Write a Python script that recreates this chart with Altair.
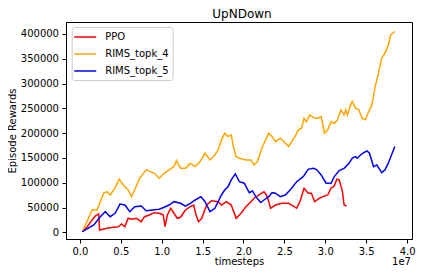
import altair as alt
import pandas as pd

series_names = ["PPO", "RIMS_topk_4", "RIMS_topk_5"]
series_colors = ["#ff0000", "#ffa500", "#0000ff"]

# timesteps in units of 1e7
ppo_t = [0.03, 0.09, 0.15, 0.19, 0.23, 0.24, 0.33, 0.41, 0.47, 0.51, 0.55, 0.59, 0.63, 0.69, 0.75, 0.79,
         0.85, 0.91, 0.97, 1.02, 1.04, 1.07, 1.11, 1.15, 1.19, 1.23, 1.29, 1.35, 1.39, 1.42, 1.45, 1.49,
         1.55, 1.61, 1.69, 1.73, 1.79, 1.85, 1.91, 1.97, 2.03, 2.09, 2.13, 2.19, 2.25, 2.28, 2.31, 2.33,
         2.39, 2.47, 2.55, 2.61, 2.65, 2.69, 2.74, 2.79, 2.83, 2.87, 2.93, 2.97, 3.03, 3.07, 3.11, 3.14,
         3.17, 3.21, 3.23, 3.26]
ppo_r = [1200, 11300, 25000, 33000, 37000, 4600, 8000, 10000, 11300, 16800, 11300, 28300, 26300, 28300,
         21400, 31500, 35000, 39600, 38400, 35000, 11300, 35000, 48500, 38400, 28300, 30300, 45000, 51700,
         55000, 35000, 21400, 28300, 55000, 63800, 61800, 55000, 61800, 55000, 28300, 38400, 51700, 61800,
         68700, 75300, 82000, 75300, 61800, 48500, 55000, 58600, 58600, 53000, 48500, 61800, 88900, 78800,
         78800, 61800, 68700, 72000, 75300, 88900, 93500, 107000, 105600, 82000, 55000, 53000]

k4_t = [0.03, 0.15, 0.21, 0.29, 0.33, 0.37, 0.43, 0.48, 0.53, 0.59, 0.63, 0.67, 0.73, 0.81, 0.87, 0.91,
        0.97, 1.03, 1.09, 1.15, 1.18, 1.23, 1.29, 1.35, 1.41, 1.47, 1.53, 1.59, 1.65, 1.69, 1.73, 1.77,
        1.81, 1.85, 1.88, 1.91, 1.95, 2.03, 2.09, 2.13, 2.17, 2.23, 2.31, 2.35, 2.39, 2.45, 2.51, 2.55,
        2.63, 2.67, 2.71, 2.74, 2.77, 2.81, 2.87, 2.91, 2.95, 2.99, 3.03, 3.07, 3.11, 3.15, 3.19, 3.23,
        3.25, 3.27, 3.31, 3.33, 3.37, 3.41, 3.45, 3.49, 3.53, 3.57, 3.61, 3.65, 3.69, 3.73, 3.77, 3.80,
        3.83, 3.85]
k4_r = [1200, 45000, 45000, 78800, 82000, 75300, 89500, 107000, 95500, 85400, 72000, 85400, 109000,
        126000, 122000, 119000, 109000, 119000, 126000, 132500, 144600, 129000, 129000, 139000, 132500,
        142600, 159600, 146000, 156000, 166000, 186000, 200000, 193000, 196500, 170000, 152700, 149500,
        146000, 146000, 136000, 142600, 172000, 200000, 193000, 183000, 190000, 180000, 173000, 193000,
        206600, 210000, 230000, 223000, 237000, 230000, 230000, 233500, 200000, 206600, 223000, 220000,
        226800, 247000, 237000, 247000, 237000, 257000, 264000, 250500, 247000, 230000, 227000, 243600,
        257000, 294000, 321000, 351500, 361600, 378000, 398500, 402000, 405000]

k5_t = [0.03, 0.17, 0.25, 0.31, 0.37, 0.43, 0.49, 0.55, 0.61, 0.67, 0.75, 0.81, 0.89, 0.97, 1.03, 1.09,
        1.15, 1.23, 1.29, 1.35, 1.41, 1.48, 1.53, 1.59, 1.65, 1.73, 1.77, 1.81, 1.85, 1.90, 1.95, 2.01,
        2.07, 2.11, 2.15, 2.21, 2.25, 2.31, 2.35, 2.39, 2.45, 2.51, 2.57, 2.65, 2.73, 2.79, 2.85, 2.89,
        2.95, 3.01, 3.07, 3.11, 3.17, 3.23, 3.29, 3.33, 3.37, 3.39, 3.43, 3.47, 3.51, 3.54, 3.59, 3.63,
        3.69, 3.73, 3.77, 3.85]
k5_r = [1200, 14700, 31500, 41600, 31500, 38400, 57000, 55000, 41600, 51700, 53000, 43600, 45000, 46500,
        50500, 55000, 61800, 58500, 53000, 58500, 65200, 72000, 61800, 41600, 48500, 75300, 85400, 92000,
        105600, 117800, 102000, 99000, 80000, 83400, 72000, 60000, 65200, 72000, 80000, 78800, 72000,
        75300, 85400, 102000, 112300, 127000, 129000, 127000, 115700, 99000, 99000, 112300, 124400,
        129000, 139400, 149500, 152700, 149500, 156000, 160800, 164000, 159600, 132500, 136000, 120400,
        126000, 139400, 173000]

x_ticks = [0.0, 0.5, 1.0, 1.5, 2.0, 2.5, 3.0, 3.5, 4.0]
y_ticks = [0, 50000, 100000, 150000, 200000, 250000, 300000, 350000, 400000]
title_text = "UpNDown"
offset_label = "1e7"

rows = []
for name, ts, rs in [("PPO", ppo_t, ppo_r), ("RIMS_topk_4", k4_t, k4_r), ("RIMS_topk_5", k5_t, k5_r)]:
    for t, r in zip(ts, rs):
        rows.append({"series": name, "t": t, "r": r})
df = pd.DataFrame(rows)

FONT = "DejaVu Sans"
PLOT_W = 346
PLOT_H = 217

lines = alt.Chart(df).mark_line(strokeWidth=1.5).encode(
    x=alt.X("t:Q",
            scale=alt.Scale(domain=[-0.17, 4.06], nice=False, zero=False),
            axis=alt.Axis(tickCount=len(x_ticks), tickMinStep=x_ticks[1] - x_ticks[0],
                          format=".1f", title="timesteps", grid=False,
                          tickSize=4, labelPadding=3, titlePadding=0,
                          labelOverlap=False, labelFlush=False)),
    y=alt.Y("r:Q",
            scale=alt.Scale(domain=[-13500, 424200], nice=False, zero=False),
            axis=alt.Axis(values=y_ticks, format="d", title="Episode Rewards", grid=False,
                          tickSize=4, labelPadding=3.5, titlePadding=3,
                          labelOverlap=False)),
    color=alt.Color("series:N",
                    scale=alt.Scale(domain=series_names, range=series_colors),
                    legend=alt.Legend(title=None, orient="none", legendX=5.7, legendY=5,
                                      symbolType="M-2.2,0L2.2,0", symbolSize=100,
                                      symbolStrokeWidth=1.5, symbolOffset=3.5,
                                      labelFontSize=10, labelFont=FONT, labelColor="#000000",
                                      labelOffset=14, rowPadding=6, padding=4,
                                      fillColor="white", strokeColor="#cccccc", cornerRadius=3)),
)

offset_text = alt.Chart(pd.DataFrame({"label": [offset_label]})).mark_text(
    align="right", baseline="middle", fontSize=10, font=FONT, color="#000000"
).encode(x=alt.value(PLOT_W - 1), y=alt.value(PLOT_H + 23), text="label:N")

title_mark = alt.Chart(pd.DataFrame({"label": [title_text]})).mark_text(
    align="center", baseline="alphabetic", fontSize=12, font=FONT, color="#000000"
).encode(x=alt.value(176), y=alt.value(-4), text="label:N")

chart = alt.layer(lines, offset_text, title_mark).properties(
    width=PLOT_W, height=PLOT_H,
    autosize=alt.AutoSizeParams(type="none"),
    padding={"left": 58, "top": 14, "right": 4, "bottom": 28},
).configure_view(stroke="#000000", strokeWidth=1).configure_axis(
    domainColor="#000000", tickColor="#000000", labelColor="#000000", titleColor="#000000",
    labelFont=FONT, titleFont=FONT, labelFontSize=10, titleFontSize=10, titleFontWeight="normal",
    domainWidth=1, tickWidth=1
)

chart.save("out.html", embed_options={"renderer": "svg", "actions": False})
